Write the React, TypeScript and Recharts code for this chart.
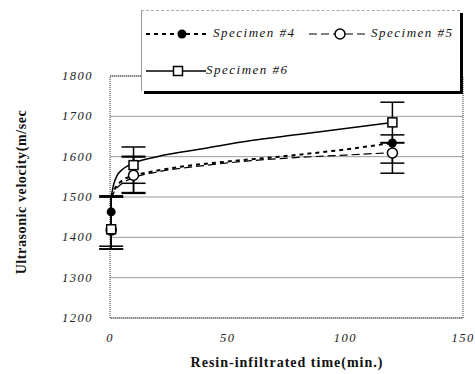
import React from 'react';
import {
  ComposedChart,
  Line,
  Scatter,
  XAxis,
  YAxis,
  CartesianGrid,
  ErrorBar,
  ReferenceArea,
} from 'recharts';

// measured points (time in min, velocity in m/sec, error [minus, plus])
const spec4Points = [
  { x: 0.5, y: 1463, err: [85, 40] },
  { x: 10, y: 1556, err: [45, 45] },
  { x: 120, y: 1634, err: [50, 20] },
];
const spec5Points = [
  { x: 0.5, y: 1418, err: [47, 82] },
  { x: 10, y: 1554, err: [45, 45] },
  { x: 120, y: 1609, err: [50, 25] },
];
const spec6Points = [
  { x: 0.5, y: 1420, err: [49, 80] },
  { x: 10, y: 1579, err: [45, 45] },
  { x: 120, y: 1685, err: [50, 50] },
];

// fitted curves
const spec4Fit = [
  { x: 0.5, y: 1500 },
  { x: 2, y: 1520 },
  { x: 5, y: 1540 },
  { x: 10, y: 1553 },
  { x: 17, y: 1562 },
  { x: 30, y: 1575 },
  { x: 50, y: 1588 },
  { x: 72, y: 1600 },
  { x: 100, y: 1618 },
  { x: 120, y: 1634 },
];
const spec5Fit = [
  { x: 0.5, y: 1495 },
  { x: 2, y: 1515 },
  { x: 5, y: 1533 },
  { x: 10, y: 1548 },
  { x: 20, y: 1562 },
  { x: 40, y: 1578 },
  { x: 60, y: 1590 },
  { x: 80, y: 1598 },
  { x: 100, y: 1604 },
  { x: 120, y: 1610 },
];
const spec6Fit = [
  { x: 0.5, y: 1500 },
  { x: 1.5, y: 1530 },
  { x: 3, y: 1553 },
  { x: 5, y: 1567 },
  { x: 7.5, y: 1577 },
  { x: 10, y: 1584 },
  { x: 20, y: 1600 },
  { x: 40, y: 1620 },
  { x: 60, y: 1640 },
  { x: 80, y: 1655 },
  { x: 100, y: 1670 },
  { x: 120, y: 1685 },
];

const xTicks = [0, 50, 100, 150];
const yTicks = [1200, 1300, 1400, 1500, 1600, 1700, 1800];

const serif = "'Liberation Serif', 'DejaVu Serif', serif";

// italic, letter-spaced tick labels like the scanned figure
const ItalicTick = (p: any) => (
  <text
    x={p.x}
    y={p.y}
    textAnchor={p.textAnchor}
    dominantBaseline={p.orientation === 'bottom' ? 'hanging' : 'central'}
    style={{ fontFamily: serif, fontStyle: 'italic', fontSize: 12.5, letterSpacing: 1.5, fill: '#222' }}
  >
    {p.payload.value}
  </text>
);

const FilledDot = (p: any) => <circle cx={p.cx} cy={p.cy} r={4.5} fill="#000" />;
const OpenDot = (p: any) => <circle cx={p.cx} cy={p.cy} r={5} fill="#fff" stroke="#000" strokeWidth={1.5} />;
const SquareDot = (p: any) => (
  <rect x={p.cx - 4.5} y={p.cy - 4.5} width={9} height={9} fill="#fff" stroke="#000" strokeWidth={1.5} />
);

const legendText: React.CSSProperties = {
  fontFamily: serif,
  fontStyle: 'italic',
  fontSize: 13,
  letterSpacing: 1.5,
  color: '#111',
};

const Legend = () => (
  <div
    style={{
      position: 'absolute',
      left: 141,
      top: 10,
      width: 318,
      height: 80,
      background: '#fff',
      borderTop: '1px dashed #aaa',
      borderLeft: '1px solid #999',
      boxShadow: '3px 3px 0 #000',
    }}
  >
    <svg width={318} height={80} style={{ position: 'absolute', left: 0, top: 0 }}>
      <line x1={4} y1={23} x2={68} y2={23} stroke="#000" strokeWidth={2} strokeDasharray="4 4" />
      <circle cx={40} cy={23} r={4.5} fill="#000" />
      <line x1={167} y1={23} x2={227} y2={23} stroke="#000" strokeWidth={1.2} strokeDasharray="8 4" />
      <circle cx={198} cy={23} r={5} fill="#fff" stroke="#000" strokeWidth={1.5} />
      <line x1={4} y1={60} x2={64} y2={60} stroke="#000" strokeWidth={1.5} />
      <rect x={31.5} y={55.5} width={9} height={9} fill="#fff" stroke="#000" strokeWidth={1.5} />
    </svg>
    <span style={{ ...legendText, position: 'absolute', left: 71, top: 14 }}>Specimen #4</span>
    <span style={{ ...legendText, position: 'absolute', left: 229, top: 14 }}>Specimen #5</span>
    <span style={{ ...legendText, position: 'absolute', left: 64, top: 51 }}>Specimen #6</span>
  </div>
);

export default function App() {
  return (
    <div style={{ position: 'absolute', left: 0, top: 0, width: 475, height: 374, background: '#fff' }}>
      <ComposedChart width={475} height={374} margin={{ top: 76, right: 12, bottom: 0, left: 0 }}>
        <CartesianGrid vertical={false} stroke="#999" strokeWidth={1} />
        <ReferenceArea
          x1={0}
          x2={150}
          y1={1200}
          y2={1800}
          fill="none"
          stroke="#333"
          strokeDasharray="1 1"
          ifOverflow="visible"
        />
        <XAxis
          type="number"
          dataKey="x"
          domain={[0, 150]}
          ticks={xTicks}
          tick={<ItalicTick orientation="bottom" />}
          tickLine={false}
          axisLine={false}
          tickMargin={9}
          height={56}
          allowDuplicatedCategory={false}
          label={() => (
            <text
              x={287}
              y={367}
              textAnchor="middle"
              fontFamily={serif}
              fontWeight="bold"
              fontSize={14}
              letterSpacing={1}
              fill="#111"
            >
              Resin-infiltrated time(min.)
            </text>
          )}
        />
        <YAxis
          type="number"
          dataKey="y"
          domain={[1200, 1800]}
          ticks={yTicks}
          tick={<ItalicTick orientation="left" />}
          tickLine={false}
          axisLine={false}
          tickMargin={11}
          width={110}
          label={() => (
            <text
              x={26}
              y={192}
              transform="rotate(-90 26 192)"
              textAnchor="middle"
              fontFamily={serif}
              fontWeight="bold"
              fontSize={14}
              letterSpacing={0.6}
              fill="#111"
            >
              Ultrasonic velocity(m/sec
            </text>
          )}
        />
        <Line
          data={spec4Fit}
          dataKey="y"
          type="monotone"
          stroke="#000"
          strokeWidth={2}
          strokeDasharray="4 4"
          dot={false}
          isAnimationActive={false}
        />
        <Line
          data={spec5Fit}
          dataKey="y"
          type="monotone"
          stroke="#000"
          strokeWidth={1.2}
          strokeDasharray="8 4"
          dot={false}
          isAnimationActive={false}
        />
        <Line
          data={spec6Fit}
          dataKey="y"
          type="monotone"
          stroke="#000"
          strokeWidth={1.5}
          dot={false}
          isAnimationActive={false}
        />
        <Scatter data={spec4Points} dataKey="y" shape={FilledDot} isAnimationActive={false}>
          <ErrorBar dataKey="err" direction="y" width={12} stroke="#000" strokeWidth={1.5} />
        </Scatter>
        <Scatter data={spec5Points} dataKey="y" shape={OpenDot} isAnimationActive={false}>
          <ErrorBar dataKey="err" direction="y" width={12} stroke="#000" strokeWidth={1.5} />
        </Scatter>
        <Scatter data={spec6Points} dataKey="y" shape={SquareDot} isAnimationActive={false}>
          <ErrorBar dataKey="err" direction="y" width={12} stroke="#000" strokeWidth={1.5} />
        </Scatter>
      </ComposedChart>
      <Legend />
    </div>
  );
}
